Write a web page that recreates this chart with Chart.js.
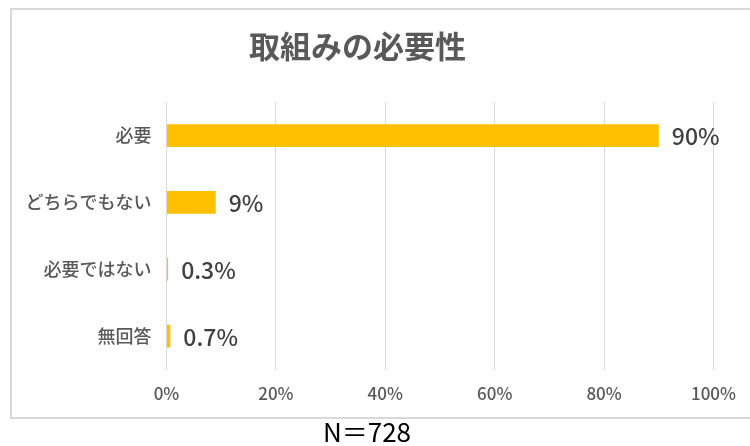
<!DOCTYPE html>
<html>
<head>
<meta charset="utf-8">
<script src="https://cdn.jsdelivr.net/npm/chart.js@4"></script>
<style>
  html, body { margin: 0; padding: 0; background: #fff; }
  #wrap { position: relative; width: 750px; height: 446px; overflow: hidden; }
  #frame { position: absolute; left: 10px; top: 8px; width: 760px; height: 411px; border: 2px solid #d9d9d9; box-sizing: border-box; }
  #chart { position: absolute; left: 0; top: 0; }
  #note { position: absolute; left: 0; width: 734px; top: 416px; text-align: center; font: 26px "Noto Sans CJK JP"; color: #000; line-height: 30px; }
</style>
</head>
<body>
<div id="wrap">
  <div id="frame"></div>
  <canvas id="chart" width="750" height="446"></canvas>
  <div id="note">N＝728</div>
</div>
<script>
const categories = ["必要", "どちらでもない", "必要ではない", "無回答"];
const shares = [90, 9, 0.3, 0.7];
const tickValues = [0, 20, 40, 60, 80, 100];
const chartTitle = "取組みの必要性";

const grey = "#595959";

// value labels next to each bar end
const barLabels = {
  id: "barLabels",
  afterDatasetsDraw(chart) {
    const ctx = chart.ctx;
    const meta = chart.getDatasetMeta(0);
    ctx.save();
    ctx.font = '500 23px "Noto Sans CJK JP"';
    ctx.fillStyle = "#404040";
    ctx.textBaseline = "middle";
    meta.data.forEach((bar, i) => {
      ctx.fillText(shares[i] + "%", bar.x + 13, bar.y + 1);
    });
    ctx.restore();
  }
};

new Chart(document.getElementById("chart"), {
  type: "bar",
  data: {
    labels: categories,
    datasets: [{
      data: shares,
      backgroundColor: "#FFC000",
      barPercentage: 0.34,
      categoryPercentage: 1
    }]
  },
  options: {
    indexAxis: "y",
    responsive: false,
    animation: false,
    layout: { padding: { left: 0, right: 35, top: 0, bottom: 0 } },
    plugins: {
      legend: { display: false },
      tooltip: { enabled: false },
      title: {
        display: true,
        text: chartTitle,
        color: grey,
        font: { family: "Noto Sans CJK JP", size: 31, weight: "bold" },
        padding: { top: 28, bottom: 37 }
      }
    },
    scales: {
      x: {
        min: 0,
        max: 100,
        afterBuildTicks(scale) {
          scale.ticks = tickValues.map(v => ({ value: v }));
        },
        afterFit(scale) { scale.height = 76.5; },
        grid: { color: "#d9d9d9", lineWidth: 1, drawTicks: false },
        border: { display: false },
        ticks: {
          padding: 14,
          color: grey,
          font: { family: "Noto Sans CJK JP", size: 17, weight: "500" },
          callback: v => v + "%"
        }
      },
      y: {
        afterFit(scale) { scale.width = 166.5; },
        grid: { display: false, drawTicks: false },
        border: { display: false },
        ticks: {
          padding: 15,
          color: grey,
          font: { family: "Noto Sans CJK JP", size: 18, weight: "500" }
        }
      }
    }
  },
  plugins: [barLabels]
});
</script>
</body>
</html>
